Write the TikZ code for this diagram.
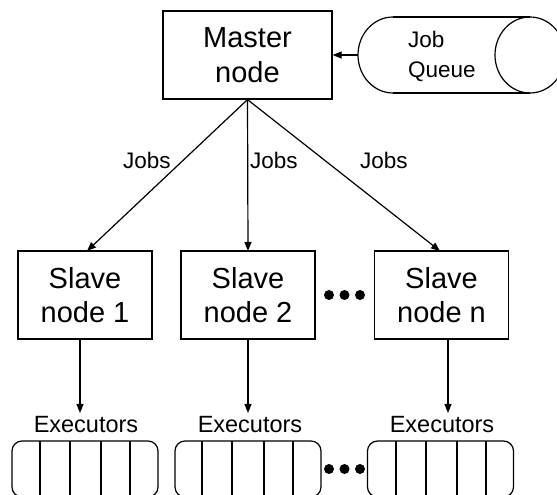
\documentclass[tikz,border=0pt]{standalone}
\usepackage{fontspec}
\setmainfont{Liberation Sans}
\usetikzlibrary{arrows.meta}
\begin{document}
\begin{tikzpicture}[x=1pt,y=1pt,
  ln/.style={line width=1.2pt, draw=black},
  arr/.style={ln, -{Triangle[length=9pt,width=7pt]}},
  bigbox/.style={ln, inner sep=0pt, minimum height=88, align=center,
    font=\fontsize{29}{34.5}\selectfont},
  exbox/.style={ln, rounded corners=10pt, inner sep=0pt, minimum width=146, minimum height=56},
  lab/.style={inner sep=0pt, anchor=base west, font=\fontsize{22.5}{27}\selectfont},
  exlab/.style={inner sep=0pt, anchor=base, font=\fontsize{23.5}{28}\selectfont},
  dot/.style={circle, fill=black, inner sep=0pt, minimum size=10pt}]
\useasboundingbox (0,0) rectangle (557,495);
\clip (0,0) rectangle (557,495);
% master node
\node[bigbox, draw, minimum width=169] (master) at (247.5,440) {Master\\node};
% job queue (horizontal cylinder)
\coordinate (jqw) at (358,440);
\draw[ln] (393,478) -- (530,478) (393,402) -- (530,402);
\draw[ln] (393,478) arc[start angle=90, end angle=270, x radius=35, y radius=38];
\draw[ln] (530,440) ellipse[x radius=35, y radius=38];
\node[lab, align=left, font=\fontsize{22.5}{30}\selectfont, anchor=base west] (jqtext) at (408,417) {Job\\Queue};
\draw[arr] (jqw) -- (master.east);
% slave nodes
\node[bigbox, draw, minimum width=134] (s1) at (85,200) {Slave\\node 1};
\node[bigbox, draw, minimum width=134] (s2) at (248,200) {Slave\\node 2};
\node[bigbox, draw, minimum width=134] (sn) at (441.5,200) {Slave\\node n};
\node[dot] (d1) at (329,200) {};
\node[dot] (d2) at (344.5,200) {};
\node[dot] (d3) at (360,200) {};
% job arrows
\coordinate (t1) at (87,244);
\coordinate (t2) at (248,244);
\coordinate (t3) at (440,244);
\draw[arr] (master.south) -- (t1);
\draw[arr] (master.south) -- (t2);
\draw[arr] (master.south) -- (t3);
\node[lab] (j1) at (123,326) {Jobs};
\node[lab] (j2) at (250,326) {Jobs};
\node[lab] (j3) at (360,326) {Jobs};
% slave to executors
\coordinate (e1) at (80,82);
\coordinate (e2) at (248,82);
\coordinate (e3) at (448,82);
\draw[arr] (s1.south -| e1) -- (e1);
\draw[arr] (s2.south -| e2) -- (e2);
\draw[arr] (sn.south -| e3) -- (e3);
\node[exlab] (l1) at (86,62) {Executors};
\node[exlab] (l2) at (250,62) {Executors};
\node[exlab] (l3) at (442,62) {Executors};
% executor boxes
\node[exbox, draw] (x1) at (85,26) {};
\node[exbox, draw] (x2) at (248,26) {};
\node[exbox, draw] (x3) at (440.5,26) {};
\foreach \x in {40,70,101,130,202,232,264,293,396,426,457,486}
  \draw[ln] (\x,54) -- (\x,-2);
\node[dot] (f1) at (329,26) {};
\node[dot] (f2) at (344.5,26) {};
\node[dot] (f3) at (360,26) {};
\end{tikzpicture}
\end{document}
